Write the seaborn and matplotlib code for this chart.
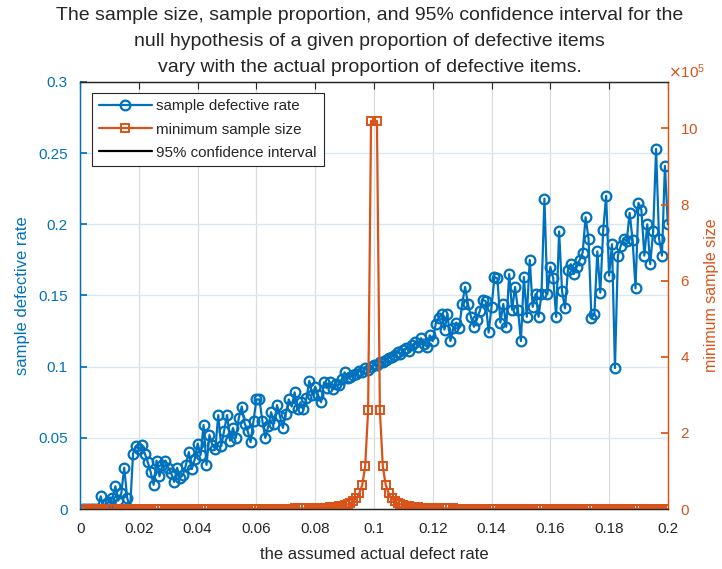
import numpy as np
import pandas as pd
import matplotlib
matplotlib.use("Agg")
import matplotlib.pyplot as plt
from matplotlib.lines import Line2D
from matplotlib.ticker import FuncFormatter, ScalarFormatter
import seaborn as sns

# assumed actual defect rate, 0.001 .. 0.200
defect_rate = np.round(np.arange(1, 201) / 1000, 3)

# sample defective rate (10 values per row)
sample_rate = [
    0, 0, 0, 0, 0, 0, 0.009, 0, 0.004, 0.005,
    0.008, 0.016, 0.006, 0.011, 0.029, 0.008, 0.0, 0.039, 0.044, 0.042,
    0.045, 0.039, 0.033, 0.026, 0.017, 0.034, 0.023, 0.031, 0.034, 0.029,
    0.025, 0.019, 0.029, 0.022, 0.024, 0.031, 0.040, 0.028, 0.035, 0.046,
    0.038, 0.059, 0.031, 0.052, 0.045, 0.042, 0.066, 0.044, 0.055, 0.066,
    0.048, 0.057, 0.050, 0.064, 0.072, 0.060, 0.055, 0.047, 0.062, 0.077,
    0.077, 0.062, 0.050, 0.058, 0.068, 0.060, 0.073, 0.065, 0.057, 0.067,
    0.077, 0.072, 0.082, 0.070, 0.075, 0.070, 0.078, 0.090, 0.080, 0.086,
    0.080, 0.075, 0.089, 0.085, 0.089, 0.084, 0.088, 0.087, 0.091, 0.096,
    0.092, 0.093, 0.094, 0.095, 0.097, 0.096, 0.099, 0.098, 0.100, 0.101,
    0.101, 0.103, 0.103, 0.105, 0.106, 0.107, 0.108, 0.110, 0.109, 0.112,
    0.113, 0.111, 0.115, 0.117, 0.114, 0.120, 0.116, 0.114, 0.122, 0.118,
    0.130, 0.134, 0.137, 0.126, 0.137, 0.118, 0.127, 0.131, 0.127, 0.144,
    0.156, 0.144, 0.135, 0.128, 0.133, 0.139, 0.147, 0.146, 0.124, 0.142,
    0.163, 0.162, 0.131, 0.144, 0.128, 0.165, 0.140, 0.156, 0.140, 0.118,
    0.163, 0.135, 0.175, 0.142, 0.151, 0.135, 0.151, 0.218, 0.151, 0.170,
    0.162, 0.135, 0.195, 0.153, 0.141, 0.168, 0.172, 0.165, 0.170, 0.175,
    0.180, 0.205, 0.190, 0.134, 0.137, 0.181, 0.152, 0.196, 0.220, 0.164,
    0.186, 0.099, 0.178, 0.185, 0.190, 0.188, 0.208, 0.189, 0.155, 0.215,
    0.210, 0.178, 0.200, 0.172, 0.195, 0.253, 0.190, 0.178, 0.241, 0.200,
]

# minimum sample size in units of 1e5 (p = 0.100 has no finite value)
min_size_1e5 = [
    0.001, 0.001, 0.001, 0.001, 0.001, 0.001, 0.001, 0.001, 0.001, 0.001,
    0.0015, 0.0015, 0.0015, 0.0015, 0.0015, 0.0015, 0.0015, 0.0015, 0.0015, 0.0015,
    0.002, 0.002, 0.002, 0.002, 0.002, 0.002, 0.002, 0.002, 0.002, 0.002,
    0.0025, 0.0025, 0.0025, 0.0025, 0.0025, 0.0025, 0.0025, 0.0025, 0.0025, 0.0025,
    0.003, 0.003, 0.003, 0.0035, 0.0035, 0.0035, 0.004, 0.004, 0.004, 0.004,
    0.0045, 0.0045, 0.005, 0.005, 0.005, 0.0055, 0.0055, 0.006, 0.006, 0.0065,
    0.007, 0.007, 0.0075, 0.008, 0.0085, 0.009, 0.0095, 0.010, 0.011, 0.0115,
    0.012, 0.013, 0.014, 0.015, 0.016, 0.018, 0.019, 0.021, 0.023, 0.026,
    0.028, 0.032, 0.035, 0.040, 0.045, 0.052, 0.060, 0.070, 0.084, 0.100,
    0.125, 0.160, 0.210, 0.280, 0.410, 0.630, 1.12, 2.60, 10.2, np.nan,
    10.2, 2.60, 1.12, 0.630, 0.410, 0.280, 0.210, 0.160, 0.125, 0.100,
    0.084, 0.070, 0.060, 0.052, 0.045, 0.040, 0.035, 0.032, 0.028, 0.026,
    0.023, 0.021, 0.019, 0.018, 0.016, 0.015, 0.014, 0.013, 0.012, 0.0115,
    0.011, 0.010, 0.0095, 0.009, 0.0085, 0.008, 0.0075, 0.007, 0.007, 0.0065,
    0.006, 0.006, 0.0055, 0.0055, 0.005, 0.005, 0.005, 0.0045, 0.0045, 0.004,
    0.004, 0.004, 0.004, 0.0035, 0.0035, 0.0035, 0.003, 0.003, 0.003, 0.003,
    0.0025, 0.0025, 0.0025, 0.0025, 0.0025, 0.0025, 0.0025, 0.0025, 0.0025, 0.0025,
    0.002, 0.002, 0.002, 0.002, 0.002, 0.002, 0.002, 0.002, 0.002, 0.002,
    0.0015, 0.0015, 0.0015, 0.0015, 0.0015, 0.0015, 0.0015, 0.0015, 0.0015, 0.0015,
    0.001, 0.001, 0.001, 0.001, 0.001, 0.001, 0.001, 0.001, 0.001, 0.001,
]

x_ticks = np.round(np.arange(0, 0.2001, 0.02), 2)
left_ticks = np.round(np.arange(0, 0.3001, 0.05), 2)
right_ticks = [0, 2e5, 4e5, 6e5, 8e5, 1e6]

title_lines = [
    "The sample size, sample proportion, and 95% confidence interval for the",
    "null hypothesis of a given proportion of defective items",
    "vary with the actual proportion of defective items.",
]

BLUE = "#0072BD"
ORANGE = "#D95319"
DARK = "#262626"

sns.set_theme(style="white")
plt.rcParams["font.family"] = ["Liberation Sans", "DejaVu Sans"]

df = pd.DataFrame({"p": defect_rate, "rate": sample_rate,
                   "n": np.array(min_size_1e5) * 1e5})
left_half = df[df["p"] < 0.1]
right_half = df[df["p"] > 0.1]

fig = plt.figure(figsize=(7.22, 5.69), dpi=100)
ax = fig.add_axes([0.111, 0.1054, 0.814, 0.7506])
ax2 = ax.twinx()

sns.lineplot(data=df, x="p", y="rate", ax=ax, color=BLUE, linewidth=1.6,
             marker="o", markersize=7, markerfacecolor="none",
             markeredgecolor=BLUE, markeredgewidth=1.6,
             estimator=None, errorbar=None)

for part in (left_half, right_half):
    sns.lineplot(data=part, x="p", y="n", ax=ax2, color=ORANGE, linewidth=1.6,
                 marker="s", markersize=5.5, markerfacecolor="none",
                 markeredgecolor=ORANGE, markeredgewidth=1.4,
                 estimator=None, errorbar=None)

ax.set_xlim(0, 0.2)
ax.set_ylim(0, 0.3)
ax2.set_ylim(0, 1.122e6)

ax.set_xticks(x_ticks)
ax.set_yticks(left_ticks)
ax2.set_yticks(right_ticks)
fmt = FuncFormatter(lambda v, pos: "%g" % round(v, 4))
ax.xaxis.set_major_formatter(fmt)
ax.yaxis.set_major_formatter(fmt)

sf = ScalarFormatter(useMathText=True)
sf.set_powerlimits((5, 5))
ax2.yaxis.set_major_formatter(sf)
off = ax2.yaxis.get_offset_text()
off.set_color(ORANGE)
off.set_fontsize(11)
off.set_horizontalalignment("left")
off.set_x(1.0)

ax.set_xlabel("the assumed actual defect rate", fontsize=12, color=DARK, labelpad=8)
ax.set_ylabel("sample defective rate", fontsize=12, color=BLUE, labelpad=6)
ax2.set_ylabel("minimum sample size", fontsize=11.5, color=ORANGE, labelpad=4)

ax.tick_params(axis="x", direction="in", length=5, colors=DARK, labelsize=11,
               top=True, width=0.8, pad=9)
ax.tick_params(axis="y", direction="in", length=5, colors=BLUE, labelsize=11, pad=9)
ax2.tick_params(axis="y", direction="in", length=5, colors=ORANGE, labelsize=11, pad=9)

ax.grid(axis="x", color="#dcdcdc", linewidth=0.9)
ax.grid(axis="y", color="#d6e7f4", linewidth=0.9)
ax.set_axisbelow(True)

for a in (ax, ax2):
    a.spines["top"].set_color(DARK)
    a.spines["bottom"].set_color(DARK)
    a.spines["left"].set_color(BLUE)
    a.spines["right"].set_color(ORANGE)
    for s in a.spines.values():
        s.set_linewidth(0.9)

# title, one line per text, centred over the figure (line centres ~15/41/67 px)
for i, line in enumerate(title_lines):
    fig.text(0.512, 1 - (15 + 26 * i) / 569, line, fontsize=14, color=DARK,
             ha="center", va="center")

handles = [
    Line2D([], [], color=BLUE, linewidth=1.6, marker="o", markersize=7,
           markerfacecolor="none", markeredgewidth=1.6),
    Line2D([], [], color=ORANGE, linewidth=1.6, marker="s", markersize=5.5,
           markerfacecolor="none", markeredgewidth=1.4),
    Line2D([], [], color="black", linewidth=1.6),
]
labels = ["sample defective rate", "minimum sample size", "95% confidence interval"]
leg = ax2.legend(handles, labels, loc="upper left", bbox_to_anchor=(0.02, 0.975),
                 fontsize=10.9, frameon=True, fancybox=False, framealpha=1,
                 edgecolor="#262626", handlelength=3.5, borderpad=0.45,
                 labelspacing=0.6, handletextpad=0.3, borderaxespad=0)
leg.get_frame().set_linewidth(0.8)

fig.savefig("out.png", dpi=100)
